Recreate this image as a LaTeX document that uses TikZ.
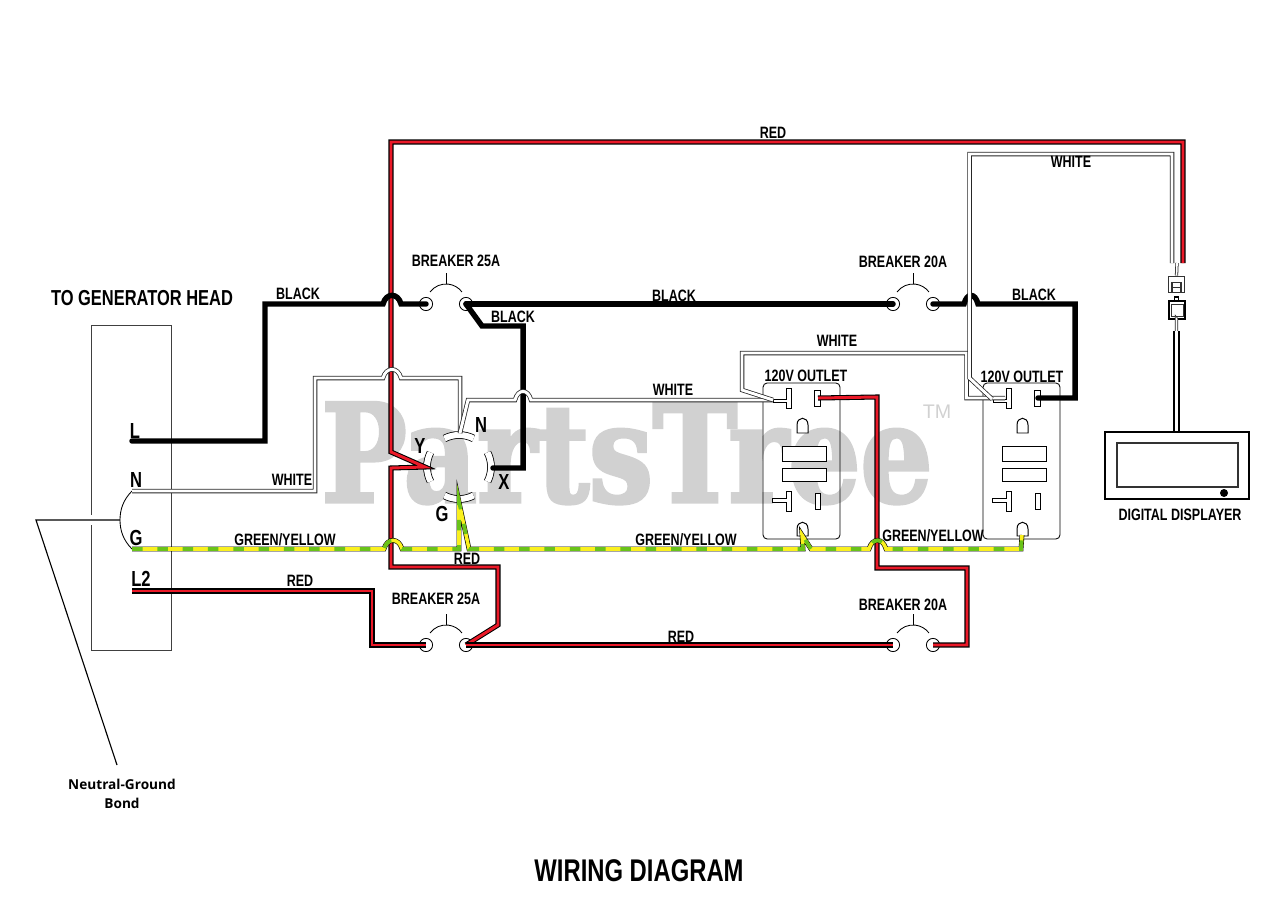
\documentclass[tikz,border=0pt]{standalone}
\usepackage{fontspec}
\newfontfamily\narrowfont[FakeStretch=0.76]{Liberation Sans}
\newfontfamily\markfont[FakeStretch=0.83,FakeBold=2.5]{DejaVu Serif Bold}
\newfontfamily\tmfont{Liberation Sans}
\newfontfamily\notefont{Open Sans}
\definecolor{wirered}{RGB}{235,25,40}
\definecolor{wiregreen}{RGB}{105,195,25}
\definecolor{wireyellow}{RGB}{250,240,30}
\tikzset{
	txt/.style={font=\narrowfont\bfseries\fontsize{11.7}{12}\selectfont, inner sep=0pt, text=black},
	pinlabel/.style={font=\narrowfont\bfseries\fontsize{15.5}{16}\selectfont, inner sep=0pt, text=black},
	terminal/.style={circle, draw=black, fill=white, line width=0.6pt, minimum size=0.33cm, inner sep=0pt},
	blackwire/.style={draw=black, line width=3.9pt, line cap=round},
	redwire/.style={draw=black, double=wirered, line width=0.75pt, double distance=2.1pt},
	whitewire/.style={draw=black!85, double=white, line width=0.55pt, double distance=2.1pt},
	gywire/.style={draw=black, line width=3.4pt, postaction={draw=wireyellow, line width=2.5pt, postaction={draw=wiregreen, line width=2.5pt, dash pattern=on 7.5pt off 10.5pt}}},
	thinline/.style={draw=black, line width=0.6pt},
	contact/.style={draw=black, fill=white, line width=0.7pt},
	socket/.style={draw=black, line width=5.4pt, postaction={draw=white, line width=4.3pt}},
	hop/.style={to path={.. controls +(3,-11.5) and +(-3,-11.5) .. (\tikztotarget)}}
}
% two terminals with the arc and tick between them
\newcommand{\breaker}[3]{
	\node[terminal] (#1a) at (#2,#3) {};
	\node[terminal] (#1b) at (#2+40,#3) {};
	\coordinate (#1mid) at (#2+20,#3);
	\coordinate (#1tick) at (#2+20,#3-31);
	\draw[thinline] ([shift={(143:0.5cm)}]#1mid) arc[start angle=143, end angle=37, radius=0.5cm];
	\draw[thinline] ([shift={(90:0.5cm)}]#1mid) -- (#1tick);
}
% outlet face, drawn for the first position and shifted
\newcommand{\outlet}[2]{
	\begin{scope}[shift={(#2,0)}]
		\node[draw=black, line width=0.6pt, rounded corners=3pt, minimum width=1.925cm, minimum height=3.9cm, inner sep=0pt] (#1) at (801.5,461) {};
		\draw[contact] (773,399) -- (786,399) -- (786,388) -- (791,388) -- (791,408) -- (786,408) -- (786,402) -- (773,402) -- cycle;
		\draw[contact] (814,390) rectangle (820,406);
		\draw[contact] (797,433) -- (797,425) .. controls (797,416) and (808,416) .. (808,425) -- (808,433) -- cycle;
		\draw[contact] (782,446) rectangle (826,461);
		\draw[contact] (782,468) rectangle (826,481);
		\draw[contact] (772,498) -- (786,498) -- (786,491) -- (791,491) -- (791,511) -- (786,511) -- (786,502) -- (772,502) -- cycle;
		\draw[contact] (815,493) rectangle (820,509);
		\draw[contact] (797,536) -- (797,529) .. controls (797,520) and (808,520) .. (808,529) -- (808,536) -- cycle;
		\coordinate (#1hot) at (818,398);
		\coordinate (#1gnd) at (802,535);
	\end{scope}
}

\begin{document}
\begin{tikzpicture}[x=0.025cm, y=-0.025cm]
		\useasboundingbox (0,0) rectangle (1280,907);

		%watermark
		\node[font=\markfont\fontsize{97}{97}\selectfont, text=black!18, inner sep=0pt, anchor=base] (mark) at (627,502) {PartsTree};
		\node[font=\tmfont\fontsize{14}{14}\selectfont, text=black!18, inner sep=0pt] (tm) at (937,412) {TM};

		%generator head
		\node[draw=black!75, line width=0.6pt, minimum width=2cm, minimum height=8.125cm, inner sep=0pt] (head) at (131,487.5) {};
		\draw[white, line width=4pt] (91,515) -- (91,525);
		\node[font=\narrowfont\bfseries\fontsize{15.4}{16}\selectfont, inner sep=0pt] (headlabel) at (142,298) {TO GENERATOR HEAD};
		\coordinate (pinL) at (132,441);
		\coordinate (pinN) at (132,491);
		\coordinate (pinG) at (132,549);
		\coordinate (pinLL) at (132,591);
		\node[pinlabel] (labL) at (135,431) {L};
		\node[pinlabel] (labN) at (136,480) {N};
		\node[pinlabel] (labG) at (136,538) {G};
		\node[pinlabel] (labLL) at (141,579) {L2};

		%neutral-ground bond
		\coordinate (bondmid) at (120,520);
		\coordinate (bondcorner) at (36,520);
		\coordinate (bondend) at (117,765);
		\draw[thinline] (pinN) .. controls (123,500) and (120,510) .. (bondmid) .. controls (120,530) and (123,540) .. (pinG);
		\draw[draw=black, line width=0.8pt] (bondmid) -- (bondcorner) -- (bondend);
		\node[font=\notefont\bfseries\fontsize{9.7}{13}\selectfont, align=center, inner sep=0pt, text=black] (bond) at (122,794) {Neutral-Ground\\Bond};

		%breakers
		\breaker{brA}{426}{304}
		\breaker{brB}{893}{304}
		\breaker{brC}{426}{645}
		\breaker{brD}{893}{645}
		\node[txt] (brAlabel) at (456,261) {BREAKER 25A};
		\node[txt] (brBlabel) at (903,262) {BREAKER 20A};
		\node[txt] (brClabel) at (436,599) {BREAKER 25A};
		\node[txt] (brDlabel) at (903,605) {BREAKER 20A};

		%outlets
		\outlet{outA}{0}
		\outlet{outB}{220}
		\node[txt] (outAlabel) at (806,376) {120V OUTLET};
		\node[txt] (outBlabel) at (1022,377) {120V OUTLET};

		%round receptacle
		\coordinate (hub) at (459,467);
		\draw[socket] ([shift={(117:0.8cm)}]hub) arc[start angle=117, end angle=63, radius=0.8cm];
		\draw[socket] ([shift={(-117:0.8cm)}]hub) arc[start angle=-117, end angle=-63, radius=0.8cm];
		\draw[socket] ([shift={(153:0.8cm)}]hub) arc[start angle=153, end angle=207, radius=0.8cm];
		\draw[socket] ([shift={(27:0.8cm)}]hub) arc[start angle=27, end angle=-27, radius=0.8cm];
		\coordinate (sockN) at (460,433);
		\coordinate (sockG) at (459,502);
		\coordinate (sockY) at (425,467);
		\coordinate (sockX) at (493,468);
		\node[pinlabel] (labSN) at (481,425) {N};
		\node[pinlabel] (labSY) at (420,446) {Y};
		\node[pinlabel] (labSX) at (504,482) {X};
		\node[pinlabel] (labSG) at (442,514) {G};

		%digital displayer
		\node[draw=black, line width=0.8pt, minimum width=3.6cm, minimum height=1.675cm, inner sep=0pt] (display) at (1177,465.5) {};
		\node[draw=black!80, line width=0.8pt, minimum width=3.025cm, minimum height=1.1cm, inner sep=0pt] (screen) at (1177.5,465) {};
		\node[circle, fill=black, minimum size=0.2cm, inner sep=0pt] (lamp) at (1224,493) {};
		\node[draw=black!80, line width=0.8pt, fill=white, minimum width=0.42cm, minimum height=0.42cm, inner sep=0pt] (plugtop) at (1176.5,284.5) {};
		\node[draw=black!80, line width=0.8pt, fill=white, minimum width=0.225cm, minimum height=0.25cm, inner sep=0pt, anchor=south] (plugslot) at (1176.5,293) {};
		\draw[black!80, line width=0.5pt] (plugslot.west |- 0,287) -- (plugslot.east |- 0,287);
		\node[draw=black, line width=0.8pt, fill=white, minimum width=0.1cm, minimum height=0.15cm, inner sep=0pt] (plugnub) at (1176.5,300) {};
		\node[draw=black, line width=0.9pt, fill=white, minimum width=0.4cm, minimum height=0.45cm, inner sep=0pt] (plugbot) at (1177,310) {};
		\node[draw=black!80, line width=0.6pt, minimum width=0.3cm, minimum height=0.3cm, inner sep=0pt] (plugbotin) at (1177,310) {};
		\node[txt] (displabel) at (1180,515) {DIGITAL DISPLAYER};
		\coordinate (stubtop) at (1177,263);
		\coordinate (cabletop) at (1176.5,331);
		\coordinate (cablegap) at (1176.5,319);
		\draw[whitewire, double distance=1.2pt] (stubtop) -- (plugtop.north);
		\draw[whitewire, double distance=1.2pt] (plugbot.south) -- (cablegap) -- (cabletop);
		\draw[draw=black, double=white, line width=1.4pt, double distance=2.2pt] (cabletop) -- (cabletop |- display.north);

		%red wires
		\coordinate (redend) at (1183,263);
		\draw[redwire] (redend) -- (1183,142) -- (391,142) -- (391,452) -- (sockY) -- (391,468) -- (391,567) -- (498,567) -- (498,625) -- (brCb.center);
		\draw[redwire] (pinLL) -- (372,591) -- (372,645) -- (brCa.center);
		\draw[redwire] (brCb.center) -- (brDa.center);
		\draw[redwire] (brDb.center) -- (967,645) -- (967,568) -- (877,568) -- (877,397) -- (outAhot);
		\node[txt] (labred1) at (773,133) {RED};
		\node[txt] (labred2) at (467,559) {RED};
		\node[txt] (labred3) at (300,581) {RED};
		\node[txt] (labred4) at (681,637) {RED};

		%black wires
		\draw[blackwire] (pinL) -- (265,441) -- (265,304) -- (383,304) to[hop] (401,304) -- (brAa.center);
		\draw[blackwire] (brAb.center) -- (brBa.center);
		\draw[blackwire] (brAb.center) -- (482,326) -- (523,326) -- (523,468) -- (sockX);
		\draw[blackwire] (brBb.center) -- (964,304) to[hop] (978,304) -- (1075,304) -- (1075,398) -- (outBhot);
		\node[txt] (labblk1) at (298,294) {BLACK};
		\node[txt] (labblk2) at (674,296) {BLACK};
		\node[txt] (labblk3) at (513,317) {BLACK};
		\node[txt] (labblk4) at (1034,295) {BLACK};

		%white wires
		\coordinate (whitetipA) at (773,400);
		\coordinate (whitetipB) at (1005,398);
		\coordinate (whitetipC) at (992,399);
		\coordinate (whiteend) at (1172,263);
		\draw[whitewire] (pinN) -- (315,491) -- (315,378) -- (383,378) to[hop] (401,378) -- (460,378) -- (sockN);
		\draw[whitewire] (sockN) -- (468,400) -- (515,400) to[hop] (531,400) -- (whitetipA);
		\draw[whitewire] (whitetipA) -- (742,390) -- (742,353) -- (966.5,353) -- (966.5,398) -- (whitetipB);
		\draw[whitewire] (whiteend) -- (1172,154) -- (969.5,154) -- (969.5,378) -- (whitetipC);
		\node[txt] (labwht1) at (1071,162) {WHITE};
		\node[txt] (labwht2) at (837,341) {WHITE};
		\node[txt] (labwht3) at (673,390) {WHITE};
		\node[txt] (labwht4) at (292,480) {WHITE};

		%green/yellow wires
		\draw[gywire] (pinG) -- (384,549) to[hop] (402,549) -- (459,549) -- (sockG) -- (469,549) -- (803,549) -- (outAgnd) -- (811,549) -- (869,549) to[hop] (886,549) -- (1021,549) -- (outBgnd);
		\node[txt] (labgy1) at (285,540) {GREEN/YELLOW};
		\node[txt] (labgy2) at (686,540) {GREEN/YELLOW};
		\node[txt] (labgy3) at (933,536) {GREEN/YELLOW};

		%title
		\node[font=\narrowfont\bfseries\fontsize{22.3}{24}\selectfont, inner sep=0pt] (title) at (639,871) {WIRING DIAGRAM};
	\end{tikzpicture}
\end{document}
